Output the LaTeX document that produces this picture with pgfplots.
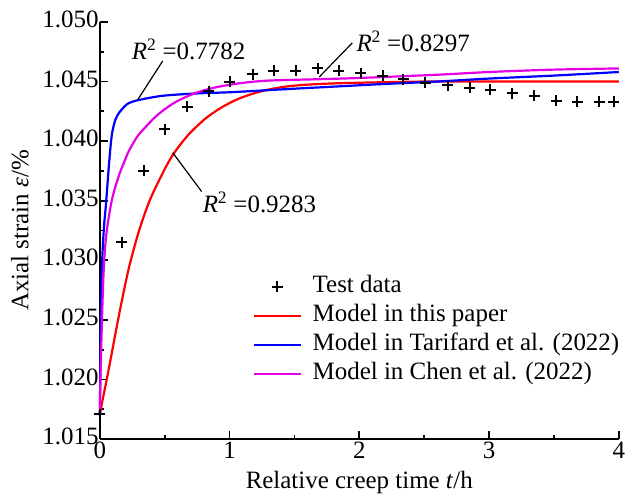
\documentclass[border=0pt]{standalone}
\usepackage{pgfplots}
\pgfplotsset{compat=1.18}
\usepackage{fontspec}
\setmainfont{Liberation Serif}

\definecolor{curvered}{RGB}{255,0,0}
\definecolor{curveblue}{RGB}{0,0,255}
\definecolor{curvemag}{RGB}{228,0,228}

\begin{document}
\fontsize{25bp}{30bp}\selectfont
\begin{tikzpicture}

\begin{axis}[%
width=520bp, height=418bp, scale only axis,%
xmin=0, xmax=4, ymin=1.015, ymax=1.050,%
axis x line*=bottom, axis y line*=left,%
axis line style={line width=1.8bp},%
every tick/.style={line width=1.8bp, black},%
tick align=inside,%
major tick length=8bp, minor tick length=4bp,%
xtick={0,1,2,3,4}, xticklabels={0,1,2,3,4},%
ytick={1.015,1.020,1.025,1.030,1.035,1.040,1.045,1.050},%
yticklabels={1.015,1.020,1.025,1.030,1.035,1.040,1.045,1.050},%
minor x tick num=1, minor y tick num=1,%
yticklabel style={inner sep=1bp, yshift=2.5bp},%
xticklabel style={inner sep=3bp},%
xlabel={Relative creep time \textit{t}/h},%
ylabel={Axial strain \textit{ε}/\%},%
xlabel style={at={(axis description cs:0.5,-0.105)}, anchor=center},%
ylabel style={at={(axis description cs:-0.154,0.5)}, anchor=center},%
clip=false,%
legend style={at={(axis description cs:0.294,0.394)}, anchor=north west,%
  draw=none, fill=none, inner sep=0pt, column sep=11bp, row sep=5bp,%
  nodes={inner sep=0pt, text height=18bp, text depth=6bp}},%
legend cell align=left,%
legend image code/.code={\draw[mark repeat=2,mark phase=2,#1] plot coordinates {(0bp,0bp)(23.5bp,0bp)(47bp,0bp)};}%
]

% test data
\addplot [only marks, mark=+, mark size=5.5bp, line width=2bp, black] coordinates {
(0,1.0171) (0.17,1.0315) (0.34,1.0375) (0.50,1.0410) (0.675,1.0429) (0.84,1.0442)
(1.00,1.0450) (1.18,1.0456) (1.34,1.0459) (1.51,1.0459) (1.68,1.0461) (1.84,1.0459)
(2.01,1.0457) (2.18,1.0455) (2.34,1.0452) (2.51,1.0449) (2.68,1.0447) (2.85,1.0445)
(3.01,1.0443) (3.18,1.0440) (3.35,1.0438) (3.52,1.0434) (3.68,1.0433) (3.85,1.0433)
(3.96,1.0433)
};
\addlegendentry{Test data}

% model in this paper
\addplot [curvered, line width=2.2bp, smooth] coordinates {
(0,1.0170) (0.02,1.0182) (0.046,1.0196) (0.08,1.0215) (0.123,1.0240) (0.17,1.0266)
(0.225,1.0294) (0.30,1.0324) (0.38,1.0349) (0.47,1.0370) (0.56,1.0388) (0.68,1.0405)
(0.815,1.0419) (0.95,1.0429) (1.08,1.0436) (1.25,1.0442) (1.45,1.0446) (1.70,1.0448)
(2.0,1.0449) (2.5,1.0450) (3.0,1.0450) (3.5,1.0450) (4.0,1.0450)
};
\addlegendentry{Model in this paper}

% Tarifard
\addplot [curveblue, line width=2.2bp, smooth] coordinates {
(0,1.0170) (0.005,1.0215) (0.010,1.0255) (0.015,1.0290) (0.025,1.0315) (0.035,1.0332)
(0.046,1.0345) (0.06,1.0365) (0.072,1.0382) (0.085,1.0398) (0.097,1.0408) (0.12,1.0418)
(0.15,1.0424) (0.19,1.0429) (0.225,1.0432) (0.30,1.04345) (0.48,1.0438) (0.74,1.0440)
(1.0,1.0441) (1.25,1.04425) (1.5,1.0444) (1.85,1.0446) (2.2,1.0448) (2.6,1.0450)
(3.0,1.04525) (3.5,1.0455) (4.0,1.0458)
};
\addlegendentry{Model in Tarifard et al. (2022)}

% Chen
\addplot [curvemag, line width=2.2bp, smooth] coordinates {
(0,1.0170) (0.004,1.0195) (0.008,1.0213) (0.013,1.0235) (0.020,1.0262) (0.027,1.0284)
(0.035,1.0302) (0.045,1.0316) (0.06,1.0330) (0.075,1.0340) (0.09,1.0349) (0.11,1.0358)
(0.15,1.0372) (0.19,1.0383) (0.225,1.0392) (0.29,1.0404) (0.354,1.0412) (0.42,1.04195)
(0.48,1.04251) (0.55,1.04305) (0.61,1.04343) (0.70,1.04388) (0.79,1.04422) (0.90,1.04453)
(1.08,1.04486) (1.3,1.04508) (1.7,1.0452) (2.0,1.0453) (2.6,1.04557) (3.0,1.0458) (3.5,1.0460) (4.0,1.0461)
};
\addlegendentry{Model in Chen et al. (2022)}

% R^2 annotations
\draw [line width=1.2bp] (axis cs:0.292,1.04347) -- (axis cs:0.485,1.04673);
\node [anchor=west, inner sep=0pt] at (axis cs:0.246,1.04766) {\textit{R}\textsuperscript{2} =0.7782};
\draw [line width=1.2bp] (axis cs:1.692,1.04539) -- (axis cs:1.946,1.04824);
\node [anchor=west, inner sep=0pt] at (axis cs:1.977,1.04833) {\textit{R}\textsuperscript{2} =0.8297};
\draw [line width=1.2bp] (axis cs:0.562,1.03903) -- (axis cs:0.785,1.03577);
\node [anchor=west, inner sep=0pt] at (axis cs:0.792,1.03484) {\textit{R}\textsuperscript{2} =0.9283};

\end{axis}

\path ([shift={(-100bp,-59bp)}]current axis.south west) rectangle ++(628bp,499bp);

\end{tikzpicture}
\end{document}
